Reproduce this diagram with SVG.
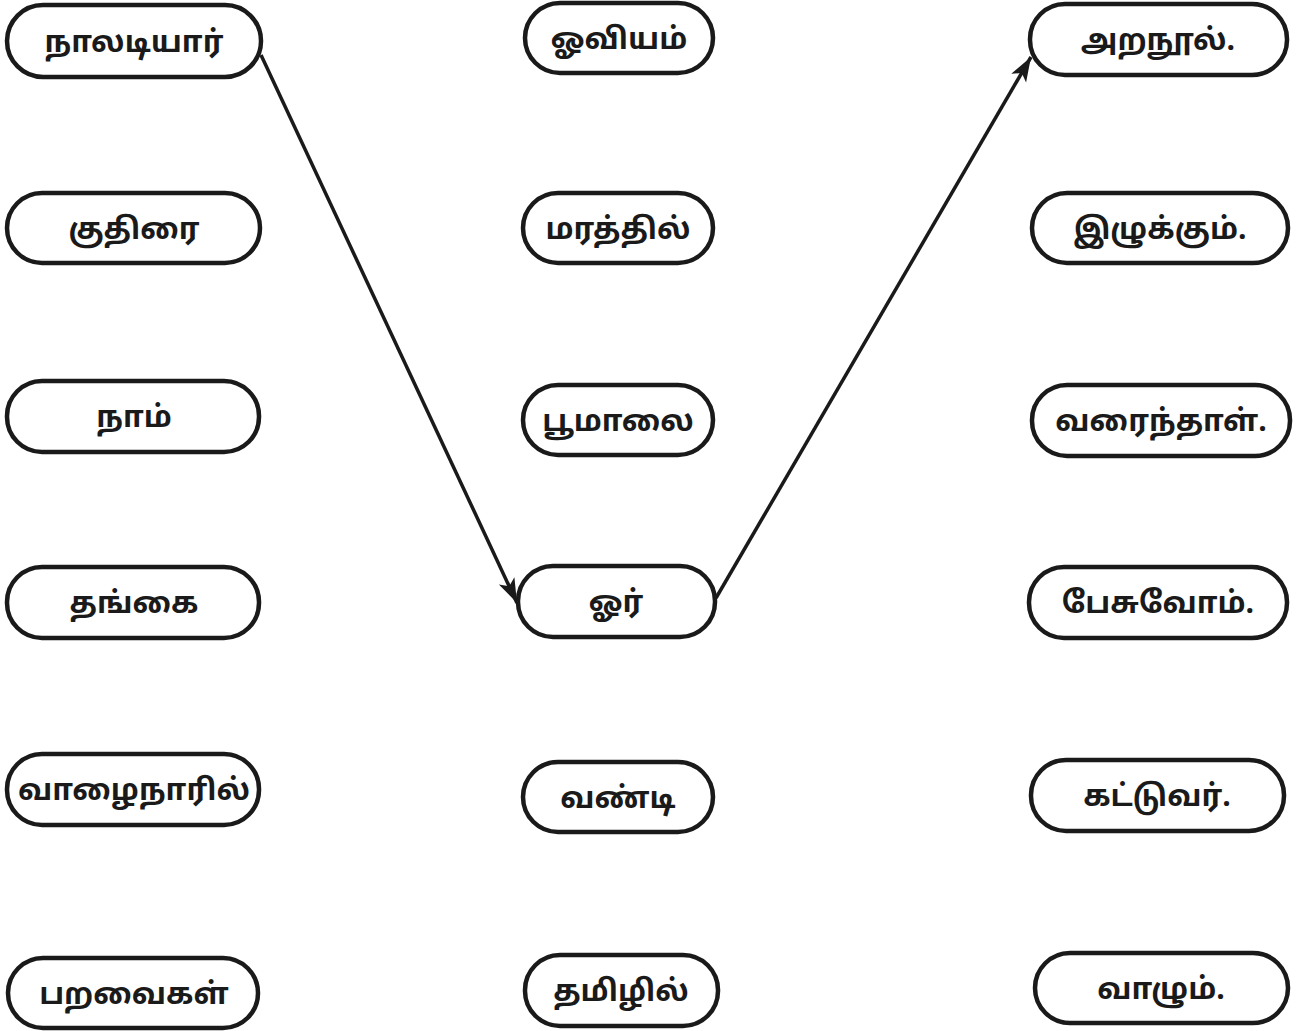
<svg xmlns="http://www.w3.org/2000/svg" width="1307" height="1031" viewBox="0 0 1307 1031">
<style>
.box{fill:#fff;stroke:#1a1a1a;stroke-width:4.5}
.t{font-family:"Noto Sans Tamil","Noto Sans","DejaVu Sans",sans-serif;font-weight:bold;font-size:30px;fill:#1a1a1a;text-anchor:middle}
.c{stroke:#1a1a1a;stroke-width:3.5;fill:none;marker-end:url(#ah)}
</style>
<defs>
<marker id="ah" viewBox="0 0 10 10" refX="10" refY="5" markerWidth="7" markerHeight="7" orient="auto" markerUnits="strokeWidth">
<path d="M0,1.5 L10,5 L0,8.5 L2.5,5 Z" fill="#1a1a1a"/>
</marker>
</defs>
<g id="connectors">
<line class="c" x1="261" y1="55" x2="517" y2="603"/>
<line class="c" x1="716" y1="598" x2="1031" y2="57"/>
</g>
<g id="n-naladiyar"><rect class="box" x="7" y="5" width="254" height="72" rx="36"/><text class="t" x="134" y="52">நாலடியார்</text></g>
<g id="n-kuthirai"><rect class="box" x="7" y="193" width="253" height="70" rx="35"/><text class="t" x="134" y="239">குதிரை</text></g>
<g id="n-naam"><rect class="box" x="7" y="381" width="252" height="71" rx="35"/><text class="t" x="134" y="427">நாம்</text></g>
<g id="n-thangai"><rect class="box" x="7" y="567" width="252" height="71" rx="35"/><text class="t" x="134" y="613">தங்கை</text></g>
<g id="n-vazhainaril"><rect class="box" x="7" y="754" width="252" height="71" rx="35"/><text class="t" x="134" y="800">வாழைநாரில்</text></g>
<g id="n-paravaigal"><rect class="box" x="8" y="958" width="250" height="70" rx="35"/><text class="t" x="134" y="1004">பறவைகள்</text></g>

<g id="n-oviyam"><rect class="box" x="525" y="3" width="188" height="70" rx="35"/><text class="t" x="619" y="49">ஓவியம்</text></g>
<g id="n-marathil"><rect class="box" x="523" y="193" width="190" height="70" rx="35"/><text class="t" x="618" y="239">மரத்தில்</text></g>
<g id="n-poomalai"><rect class="box" x="523" y="385" width="190" height="70" rx="35"/><text class="t" x="618" y="431">பூமாலை</text></g>
<g id="n-or"><rect class="box" x="518" y="566" width="197" height="71" rx="35"/><text class="t" x="616" y="612">ஓர்</text></g>
<g id="n-vandi"><rect class="box" x="523" y="762" width="190" height="70" rx="35"/><text class="t" x="618" y="808">வண்டி</text></g>
<g id="n-thamizhil"><rect class="box" x="525" y="955" width="193" height="71" rx="35"/><text class="t" x="621" y="1001">தமிழில்</text></g>

<g id="n-aranool"><rect class="box" x="1030" y="4" width="257" height="71" rx="35"/><text class="t" x="1158" y="50">அறநூல்.</text></g>
<g id="n-izhukkum"><rect class="box" x="1032" y="193" width="256" height="70" rx="35"/><text class="t" x="1160" y="239">இழுக்கும்.</text></g>
<g id="n-varainthal"><rect class="box" x="1032" y="385" width="258" height="71" rx="35"/><text class="t" x="1161" y="431">வரைந்தாள்.</text></g>
<g id="n-pesuvom"><rect class="box" x="1029" y="567" width="258" height="71" rx="35"/><text class="t" x="1158" y="613">பேசுவோம்.</text></g>
<g id="n-kattuvar"><rect class="box" x="1031" y="760" width="253" height="71" rx="35"/><text class="t" x="1157" y="806">கட்டுவர்.</text></g>
<g id="n-vazhum"><rect class="box" x="1035" y="953" width="253" height="70" rx="35"/><text class="t" x="1161" y="999">வாழும்.</text></g>
</svg>
